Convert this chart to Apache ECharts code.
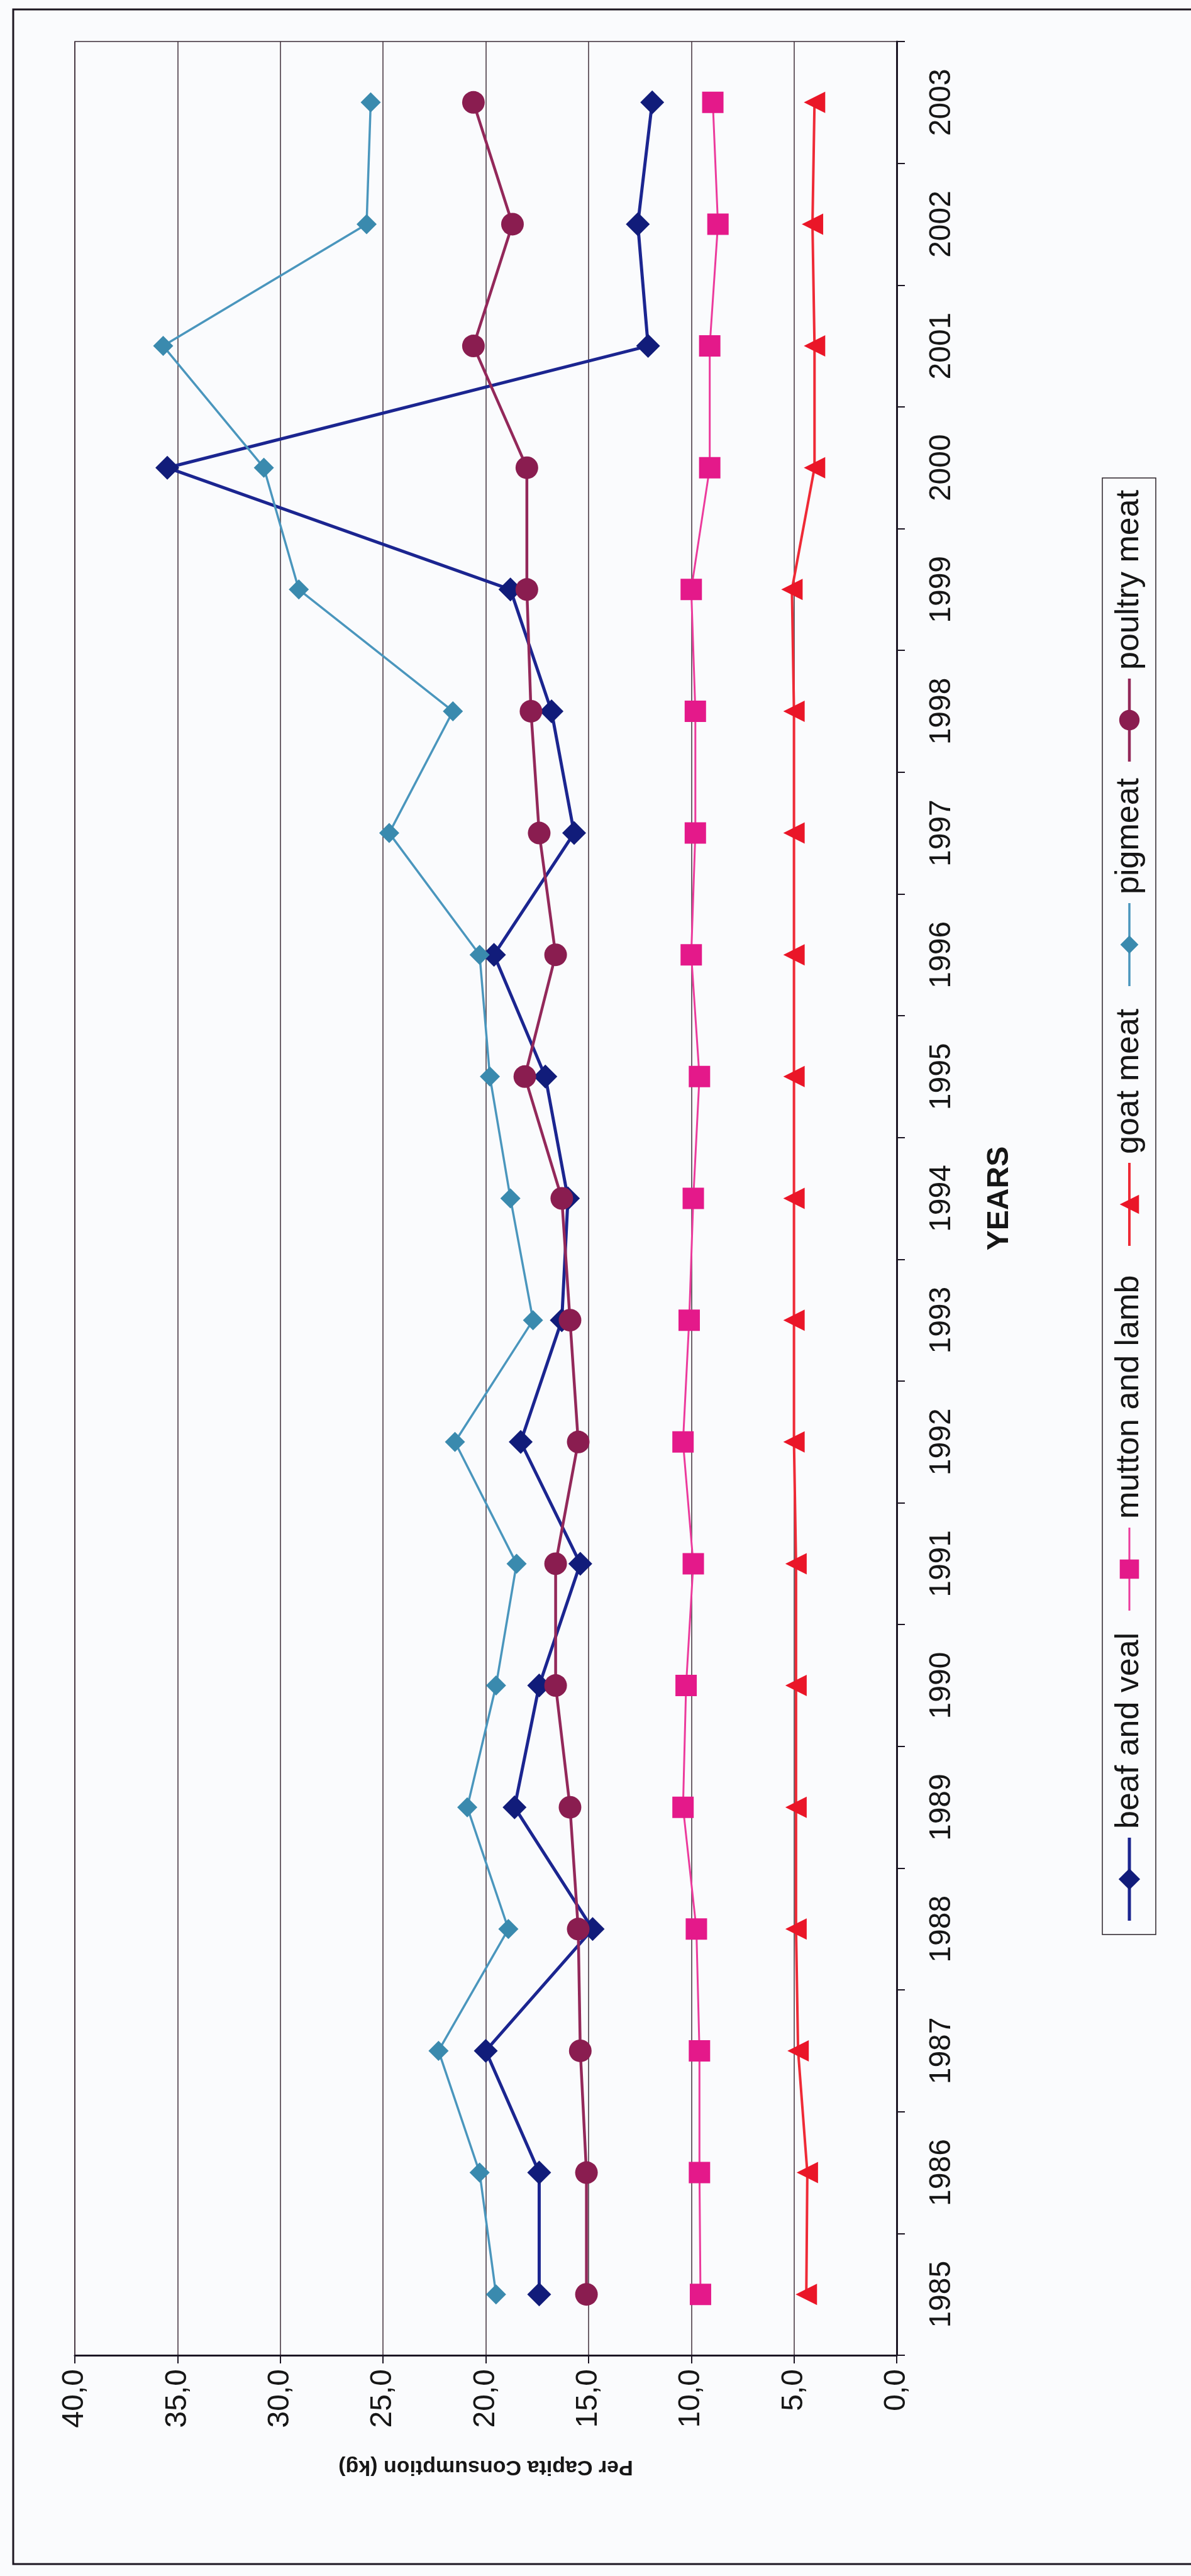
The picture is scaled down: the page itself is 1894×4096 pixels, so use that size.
<!DOCTYPE html>
<html>
<head>
<meta charset="UTF-8">
<title>Per Capita Consumption</title>
<script src="https://cdn.jsdelivr.net/npm/echarts@6/dist/echarts.min.js"></script>
<style>body{margin:0;background:#fafbfd;}</style>
</head>
<body>
<div id="main" style="width:1894px;height:4096px;"></div>
<script>
// years run bottom -> top on the (rotated) category axis
var years = ['1985','1986','1987','1988','1989','1990','1991','1992','1993','1994',
             '1995','1996','1997','1998','1999','2000','2001','2002','2003'];

// kg per capita
var beafVeal    = [17.4, 17.4, 20.0, 14.8, 18.6, 17.4, 15.4, 18.3, 16.3, 16.0, 17.1, 19.6, 15.7, 16.8, 18.8, 35.5, 12.1, 12.6, 11.9];
var muttonLamb  = [9.55, 9.6, 9.6, 9.75, 10.4, 10.25, 9.9, 10.4, 10.1, 9.9, 9.6, 10.0, 9.8, 9.8, 10.0, 9.1, 9.1, 8.7, 8.95];
var goatMeat    = [4.4, 4.35, 4.8, 4.9, 4.9, 4.9, 4.9, 5.0, 5.0, 5.0, 5.0, 5.0, 5.0, 5.0, 5.1, 4.0, 4.0, 4.1, 4.0];
var pigmeat     = [19.5, 20.3, 22.3, 18.9, 20.9, 19.5, 18.5, 21.5, 17.7, 18.8, 19.8, 20.3, 24.7, 21.6, 29.1, 30.8, 35.7, 25.8, 25.6];
var poultryMeat = [15.1, 15.1, 15.4, 15.5, 15.9, 16.6, 16.6, 15.5, 15.9, 16.3, 18.1, 16.6, 17.4, 17.8, 18.0, 18.0, 20.6, 18.7, 20.6];

var seriesNames = ['beaf and veal', 'mutton and lamb', 'goat meat', 'pigmeat', 'poultry meat'];

var FONT = 'Liberation Sans, Arial, sans-serif';

// look of each series, same order as seriesNames
var looks = [
    {data: beafVeal,    color: '#1b2590', mark: '#111c7a', symbol: 'diamond',  size: 38, width: 5},
    {data: muttonLamb,  color: '#ec3a9c', mark: '#e4198a', symbol: 'rect',     size: 34, width: 3},
    {data: goatMeat,    color: '#ef2a36', mark: '#ea1628', symbol: 'triangle', size: 34, width: 4},
    {data: pigmeat,     color: '#4a96bd', mark: '#3a8aae', symbol: 'diamond',  size: 32, width: 3.5},
    {data: poultryMeat, color: '#93285a', mark: '#8a1d50', symbol: 'circle',   size: 36, width: 4.5}
];

var series = looks.map(function (l, i) {
    return {
        name: seriesNames[i],
        type: 'line',
        data: l.data,
        symbol: l.symbol,
        symbolSize: l.size,
        symbolRotate: l.symbol === 'triangle' ? 90 : 0,
        lineStyle: {color: l.color, width: l.width},
        itemStyle: {color: l.mark},
        z: 2 + i
    };
});

// hand-made legend, turned like the rest of the page (reads bottom -> top)
var legendX = 1796;
var legendSymY = [2988, 2495, 1915, 1502, 1145];
var graphics = [
    {type: 'rect', shape: {x: 21, y: 15, width: 1900, height: 4062},
     style: {fill: 'none', stroke: '#1c1620', lineWidth: 3}},
    {type: 'rect', shape: {x: 1753, y: 760, width: 85, height: 2316},
     style: {fill: 'none', stroke: '#2a2228', lineWidth: 1.5}}
];
looks.forEach(function (l, i) {
    var y = legendSymY[i], s = l.size * 0.9, h = s / 2, shape;
    graphics.push({type: 'line', shape: {x1: legendX, y1: y - 66, x2: legendX, y2: y + 66},
                   style: {stroke: l.color, lineWidth: l.width}});
    if (l.symbol === 'diamond') {
        shape = {type: 'polygon', shape: {points: [[legendX, y - h], [legendX + h, y], [legendX, y + h], [legendX - h, y]]}};
    } else if (l.symbol === 'rect') {
        shape = {type: 'rect', shape: {x: legendX - h, y: y - h, width: s, height: s}};
    } else if (l.symbol === 'triangle') {
        shape = {type: 'polygon', shape: {points: [[legendX - h, y], [legendX + h, y - h], [legendX + h, y + h]]}};
    } else {
        shape = {type: 'circle', shape: {cx: legendX, cy: y, r: h}};
    }
    shape.style = {fill: l.mark};
    graphics.push(shape);
    graphics.push({
        type: 'text', x: legendX, y: y - 80, rotation: Math.PI / 2,
        style: {text: seriesNames[i], fontSize: 52, fontFamily: FONT, fill: '#161616',
                align: 'left', verticalAlign: 'middle'}
    });
});

var myChart = echarts.init(document.getElementById('main'));
myChart.setOption({
    backgroundColor: '#fafbfd',
    animation: false,
    grid: {left: 119, right: 468, top: 66, bottom: 351, show: true,
           borderColor: '#3a2c36', borderWidth: 1.5, backgroundColor: 'transparent'},
    xAxis: {
        type: 'value', min: 0, max: 40, interval: 5, inverse: true, position: 'bottom',
        name: 'Per Capita Consumption (kg)', nameLocation: 'middle', nameRotate: 180, nameGap: 160,
        nameTextStyle: {fontSize: 34, fontWeight: 'bold', fontFamily: FONT, color: '#161616'},
        axisLine: {show: true, lineStyle: {color: '#1c1624', width: 3}},
        axisTick: {show: true, length: 13, lineStyle: {color: '#1c1624', width: 2}},
        axisLabel: {rotate: 90, fontSize: 48, fontFamily: FONT, color: '#161616', margin: 22,
                    formatter: function (v) { return v.toFixed(1).replace('.', ','); }},
        splitLine: {show: true, lineStyle: {color: '#3e2e38', width: 1.5}}
    },
    yAxis: {
        type: 'category', data: years, position: 'right', boundaryGap: true,
        name: 'YEARS', nameLocation: 'middle', nameGap: 140,
        nameTextStyle: {fontSize: 48, fontWeight: 'bold', fontFamily: FONT, color: '#161616'},
        axisLine: {show: true, lineStyle: {color: '#1c1624', width: 3}},
        axisTick: {show: true, length: 13, lineStyle: {color: '#1c1624', width: 2}},
        axisLabel: {rotate: 90, fontSize: 48, fontFamily: FONT, color: '#161616', margin: 48},
        splitLine: {show: false}
    },
    graphic: graphics,
    series: series
});
</script>
</body>
</html>
